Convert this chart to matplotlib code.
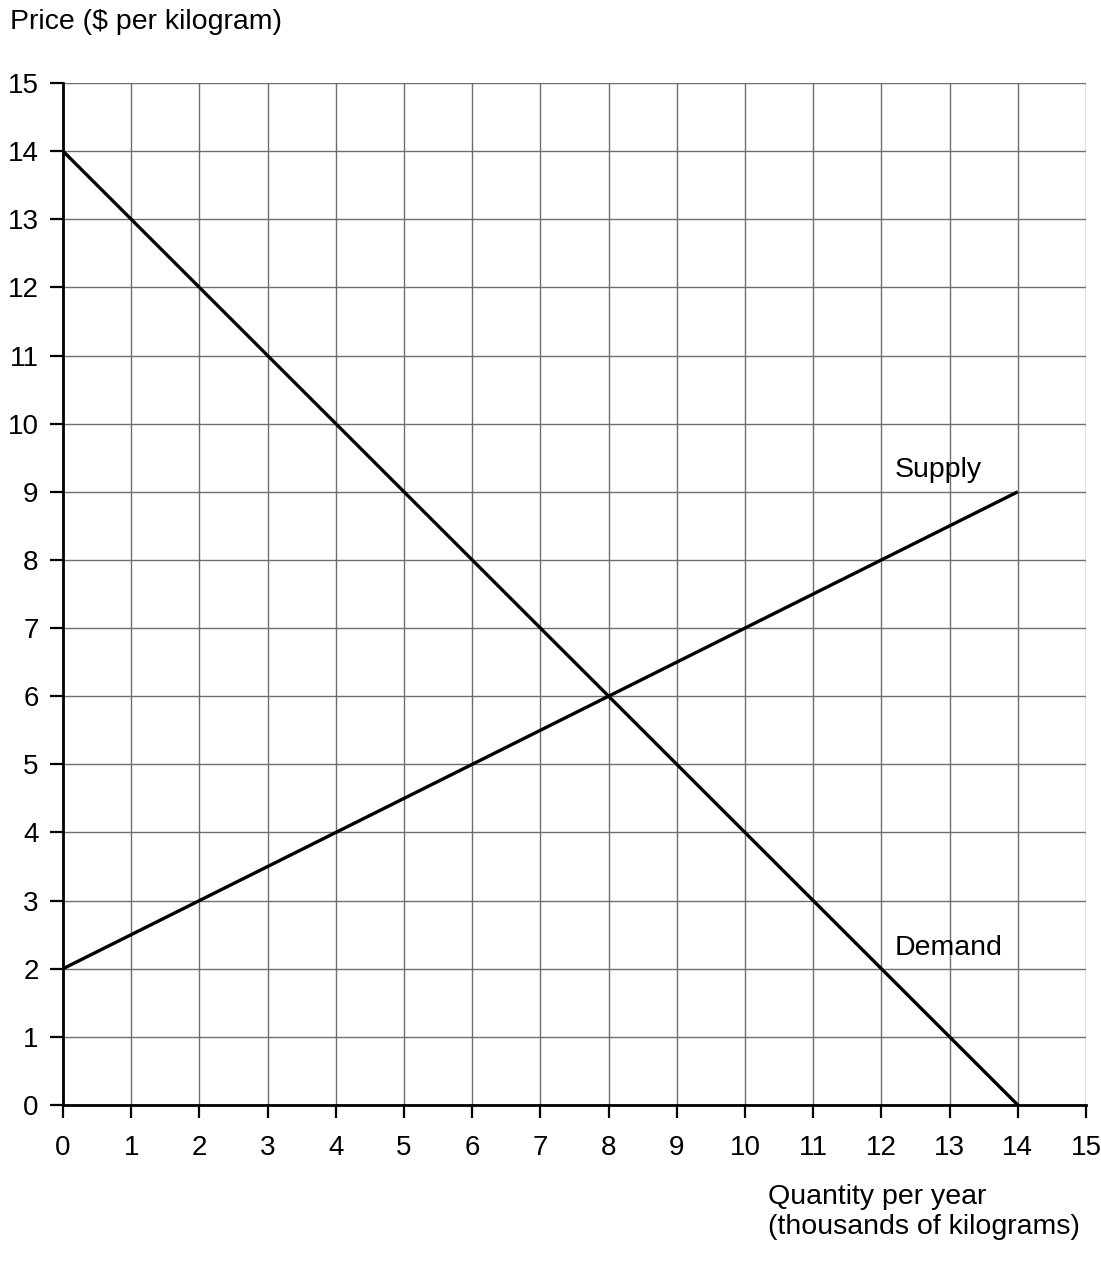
import numpy as np
import matplotlib.pyplot as plt

plt.rcParams['font.family'] = ['Liberation Sans', 'DejaVu Sans']

# quantity (thousands of kg) and price ($/kg) end points
supply_q = [0, 14]
supply_p = [2, 9]
demand_q = [0, 14]
demand_p = [14, 0]
ticks = list(range(0, 16))

fig = plt.figure(figsize=(11.01, 12.73), dpi=100)
ax = fig.add_axes([63 / 1101, 1 - 1105 / 1273, 1023 / 1101, 1022 / 1273])

ax.plot(supply_q, supply_p, color='black', lw=2.4, solid_capstyle='butt', zorder=3)
ax.plot(demand_q, demand_p, color='black', lw=2.4, solid_capstyle='butt', zorder=3)

ax.set_xlim(0, 15)
ax.set_ylim(0, 15)
ax.set_xticks(ticks)
ax.set_yticks(ticks)
ax.grid(True, color='#6e6e6e', lw=1.0, zorder=1)
ax.set_axisbelow(True)

for s in ['top', 'right']:
    ax.spines[s].set_visible(False)
for s in ['left', 'bottom']:
    ax.spines[s].set_linewidth(2.0)
    ax.spines[s].set_zorder(4)

ax.tick_params(direction='out', length=9.5, width=1.6, labelsize=20)
ax.tick_params(axis='x', pad=12)
ax.tick_params(axis='y', pad=8)

ax.text(12.2, 9.32, 'Supply', fontsize=20.5, va='center', ha='left')
ax.text(12.2, 2.3, 'Demand', fontsize=20.5, va='center', ha='left')

fig.text(10 / 1101, 1 - 22 / 1273, 'Price ($ per kilogram)', fontsize=20.5,
         ha='left', va='center')
fig.text(768 / 1101, 1 - 1212 / 1273, 'Quantity per year\n(thousands of kilograms)',
         fontsize=20.5, ha='left', va='center', linespacing=1.15)

fig.savefig('out.png', dpi=100)
